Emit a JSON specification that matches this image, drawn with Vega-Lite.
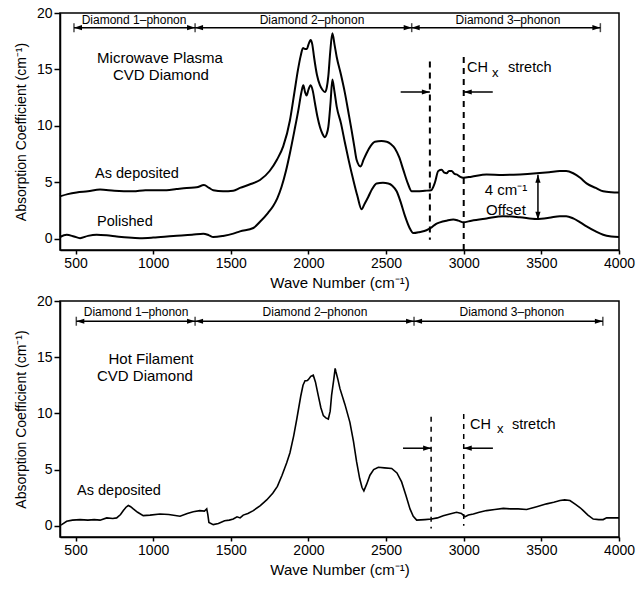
{
  "$schema": "https://vega.github.io/schema/vega-lite/v6.json",
  "background": "white",
  "padding": {"left": 13, "top": 5, "right": 5, "bottom": 5},
  "spacing": 2,
  "datasets": {
    "topCurves": [
      {"series": "As deposited", "x": 400, "y": 3.75}, {"series": "As deposited", "x": 450, "y": 3.95}, {"series": "As deposited", "x": 507, "y": 4.1}, {"series": "As deposited", "x": 580, "y": 4.2}, {"series": "As deposited", "x": 658, "y": 4.35}, {"series": "As deposited", "x": 750, "y": 4.25}, {"series": "As deposited", "x": 872, "y": 4.2}, {"series": "As deposited", "x": 950, "y": 4.3}, {"series": "As deposited", "x": 1087, "y": 4.3}, {"series": "As deposited", "x": 1150, "y": 4.4}, {"series": "As deposited", "x": 1216, "y": 4.5}, {"series": "As deposited", "x": 1280, "y": 4.55}, {"series": "As deposited", "x": 1327, "y": 4.75}, {"series": "As deposited", "x": 1360, "y": 4.5}, {"series": "As deposited", "x": 1387, "y": 4.3}, {"series": "As deposited", "x": 1450, "y": 4.2}, {"series": "As deposited", "x": 1516, "y": 4.25}, {"series": "As deposited", "x": 1559, "y": 4.5}, {"series": "As deposited", "x": 1620, "y": 4.8}, {"series": "As deposited", "x": 1688, "y": 5.2}, {"series": "As deposited", "x": 1750, "y": 6.0}, {"series": "As deposited", "x": 1797, "y": 7.0}, {"series": "As deposited", "x": 1838, "y": 8.2}, {"series": "As deposited", "x": 1881, "y": 10.5}, {"series": "As deposited", "x": 1910, "y": 13.0}, {"series": "As deposited", "x": 1933, "y": 15.0}, {"series": "As deposited", "x": 1950, "y": 16.2}, {"series": "As deposited", "x": 1965, "y": 16.9}, {"series": "As deposited", "x": 1978, "y": 16.8}, {"series": "As deposited", "x": 1990, "y": 16.8}, {"series": "As deposited", "x": 2000, "y": 17.2}, {"series": "As deposited", "x": 2014, "y": 17.6}, {"series": "As deposited", "x": 2025, "y": 17.2}, {"series": "As deposited", "x": 2036, "y": 16.1}, {"series": "As deposited", "x": 2055, "y": 14.5}, {"series": "As deposited", "x": 2074, "y": 13.6}, {"series": "As deposited", "x": 2090, "y": 13.2}, {"series": "As deposited", "x": 2106, "y": 13.0}, {"series": "As deposited", "x": 2118, "y": 13.4}, {"series": "As deposited", "x": 2128, "y": 14.4}, {"series": "As deposited", "x": 2140, "y": 16.5}, {"series": "As deposited", "x": 2154, "y": 18.2}, {"series": "As deposited", "x": 2168, "y": 17.2}, {"series": "As deposited", "x": 2182, "y": 16.1}, {"series": "As deposited", "x": 2210, "y": 14.5}, {"series": "As deposited", "x": 2235, "y": 12.9}, {"series": "As deposited", "x": 2260, "y": 11.0}, {"series": "As deposited", "x": 2278, "y": 9.6}, {"series": "As deposited", "x": 2295, "y": 8.2}, {"series": "As deposited", "x": 2310, "y": 7.0}, {"series": "As deposited", "x": 2336, "y": 6.4}, {"series": "As deposited", "x": 2355, "y": 7.0}, {"series": "As deposited", "x": 2375, "y": 7.6}, {"series": "As deposited", "x": 2400, "y": 8.2}, {"series": "As deposited", "x": 2428, "y": 8.6}, {"series": "As deposited", "x": 2470, "y": 8.65}, {"series": "As deposited", "x": 2504, "y": 8.6}, {"series": "As deposited", "x": 2530, "y": 8.4}, {"series": "As deposited", "x": 2557, "y": 8.0}, {"series": "As deposited", "x": 2585, "y": 7.2}, {"series": "As deposited", "x": 2611, "y": 6.1}, {"series": "As deposited", "x": 2640, "y": 4.9}, {"series": "As deposited", "x": 2665, "y": 4.2}, {"series": "As deposited", "x": 2700, "y": 4.2}, {"series": "As deposited", "x": 2750, "y": 4.25}, {"series": "As deposited", "x": 2790, "y": 4.3}, {"series": "As deposited", "x": 2815, "y": 5.0}, {"series": "As deposited", "x": 2836, "y": 6.0}, {"series": "As deposited", "x": 2858, "y": 6.1}, {"series": "As deposited", "x": 2875, "y": 5.85}, {"series": "As deposited", "x": 2890, "y": 5.8}, {"series": "As deposited", "x": 2905, "y": 6.0}, {"series": "As deposited", "x": 2922, "y": 6.0}, {"series": "As deposited", "x": 2940, "y": 5.75}, {"series": "As deposited", "x": 2954, "y": 5.7}, {"series": "As deposited", "x": 2975, "y": 5.5}, {"series": "As deposited", "x": 2997, "y": 5.4}, {"series": "As deposited", "x": 3050, "y": 5.5}, {"series": "As deposited", "x": 3147, "y": 5.7}, {"series": "As deposited", "x": 3250, "y": 5.65}, {"series": "As deposited", "x": 3362, "y": 5.7}, {"series": "As deposited", "x": 3469, "y": 5.8}, {"series": "As deposited", "x": 3550, "y": 5.9}, {"series": "As deposited", "x": 3620, "y": 6.0}, {"series": "As deposited", "x": 3660, "y": 6.0}, {"series": "As deposited", "x": 3705, "y": 5.8}, {"series": "As deposited", "x": 3750, "y": 5.4}, {"series": "As deposited", "x": 3791, "y": 4.9}, {"series": "As deposited", "x": 3850, "y": 4.5}, {"series": "As deposited", "x": 3898, "y": 4.2}, {"series": "As deposited", "x": 3950, "y": 4.12}, {"series": "As deposited", "x": 4000, "y": 4.1},
      {"series": "Polished", "x": 400, "y": 0.15}, {"series": "Polished", "x": 443, "y": 0.35}, {"series": "Polished", "x": 490, "y": 0.2}, {"series": "Polished", "x": 529, "y": 0.05}, {"series": "Polished", "x": 580, "y": 0.25}, {"series": "Polished", "x": 636, "y": 0.35}, {"series": "Polished", "x": 700, "y": 0.3}, {"series": "Polished", "x": 765, "y": 0.2}, {"series": "Polished", "x": 840, "y": 0.1}, {"series": "Polished", "x": 915, "y": 0.05}, {"series": "Polished", "x": 1000, "y": 0.1}, {"series": "Polished", "x": 1130, "y": 0.25}, {"series": "Polished", "x": 1250, "y": 0.35}, {"series": "Polished", "x": 1323, "y": 0.45}, {"series": "Polished", "x": 1360, "y": 0.3}, {"series": "Polished", "x": 1387, "y": 0.15}, {"series": "Polished", "x": 1450, "y": 0.25}, {"series": "Polished", "x": 1516, "y": 0.45}, {"series": "Polished", "x": 1559, "y": 0.65}, {"series": "Polished", "x": 1645, "y": 0.95}, {"series": "Polished", "x": 1688, "y": 1.5}, {"series": "Polished", "x": 1740, "y": 2.3}, {"series": "Polished", "x": 1773, "y": 2.9}, {"series": "Polished", "x": 1800, "y": 3.6}, {"series": "Polished", "x": 1827, "y": 4.6}, {"series": "Polished", "x": 1855, "y": 6.0}, {"series": "Polished", "x": 1881, "y": 7.6}, {"series": "Polished", "x": 1910, "y": 9.6}, {"series": "Polished", "x": 1935, "y": 11.4}, {"series": "Polished", "x": 1955, "y": 13.0}, {"series": "Polished", "x": 1967, "y": 13.6}, {"series": "Polished", "x": 1978, "y": 13.0}, {"series": "Polished", "x": 1988, "y": 12.7}, {"series": "Polished", "x": 2000, "y": 13.2}, {"series": "Polished", "x": 2014, "y": 13.6}, {"series": "Polished", "x": 2028, "y": 13.1}, {"series": "Polished", "x": 2042, "y": 12.0}, {"series": "Polished", "x": 2058, "y": 10.8}, {"series": "Polished", "x": 2074, "y": 9.9}, {"series": "Polished", "x": 2090, "y": 9.3}, {"series": "Polished", "x": 2106, "y": 9.0}, {"series": "Polished", "x": 2118, "y": 9.3}, {"series": "Polished", "x": 2128, "y": 9.9}, {"series": "Polished", "x": 2142, "y": 12.0}, {"series": "Polished", "x": 2154, "y": 14.1}, {"series": "Polished", "x": 2168, "y": 13.0}, {"series": "Polished", "x": 2182, "y": 11.7}, {"series": "Polished", "x": 2210, "y": 10.2}, {"series": "Polished", "x": 2235, "y": 8.5}, {"series": "Polished", "x": 2260, "y": 6.9}, {"series": "Polished", "x": 2289, "y": 5.2}, {"series": "Polished", "x": 2315, "y": 3.8}, {"series": "Polished", "x": 2342, "y": 2.6}, {"series": "Polished", "x": 2362, "y": 3.1}, {"series": "Polished", "x": 2385, "y": 3.7}, {"series": "Polished", "x": 2410, "y": 4.4}, {"series": "Polished", "x": 2439, "y": 4.9}, {"series": "Polished", "x": 2480, "y": 4.95}, {"series": "Polished", "x": 2514, "y": 4.9}, {"series": "Polished", "x": 2540, "y": 4.7}, {"series": "Polished", "x": 2568, "y": 4.2}, {"series": "Polished", "x": 2595, "y": 3.2}, {"series": "Polished", "x": 2622, "y": 2.0}, {"series": "Polished", "x": 2650, "y": 1.0}, {"series": "Polished", "x": 2675, "y": 0.5}, {"series": "Polished", "x": 2718, "y": 0.6}, {"series": "Polished", "x": 2760, "y": 0.75}, {"series": "Polished", "x": 2793, "y": 1.0}, {"series": "Polished", "x": 2820, "y": 1.3}, {"series": "Polished", "x": 2847, "y": 1.45}, {"series": "Polished", "x": 2890, "y": 1.6}, {"series": "Polished", "x": 2933, "y": 1.7}, {"series": "Polished", "x": 2965, "y": 1.6}, {"series": "Polished", "x": 2997, "y": 1.45}, {"series": "Polished", "x": 3050, "y": 1.6}, {"series": "Polished", "x": 3147, "y": 1.8}, {"series": "Polished", "x": 3255, "y": 2.0}, {"series": "Polished", "x": 3362, "y": 1.9}, {"series": "Polished", "x": 3469, "y": 1.75}, {"series": "Polished", "x": 3550, "y": 1.85}, {"series": "Polished", "x": 3620, "y": 2.0}, {"series": "Polished", "x": 3660, "y": 2.0}, {"series": "Polished", "x": 3705, "y": 1.8}, {"series": "Polished", "x": 3750, "y": 1.45}, {"series": "Polished", "x": 3791, "y": 1.1}, {"series": "Polished", "x": 3850, "y": 0.65}, {"series": "Polished", "x": 3898, "y": 0.35}, {"series": "Polished", "x": 3950, "y": 0.2}, {"series": "Polished", "x": 4000, "y": 0.15}
    ],
    "bottomCurve": [
      {"x": 400, "y": 0.05}, {"x": 411, "y": 0.1}, {"x": 443, "y": 0.4}, {"x": 480, "y": 0.5}, {"x": 529, "y": 0.55}, {"x": 580, "y": 0.5}, {"x": 620, "y": 0.55}, {"x": 658, "y": 0.5}, {"x": 701, "y": 0.7}, {"x": 740, "y": 0.65}, {"x": 765, "y": 0.7}, {"x": 790, "y": 1.0}, {"x": 808, "y": 1.35}, {"x": 825, "y": 1.65}, {"x": 840, "y": 1.8}, {"x": 855, "y": 1.7}, {"x": 872, "y": 1.5}, {"x": 900, "y": 1.2}, {"x": 936, "y": 0.9}, {"x": 980, "y": 0.95}, {"x": 1044, "y": 1.05}, {"x": 1100, "y": 1.0}, {"x": 1173, "y": 0.85}, {"x": 1220, "y": 1.1}, {"x": 1258, "y": 1.25}, {"x": 1300, "y": 1.35}, {"x": 1330, "y": 1.3}, {"x": 1345, "y": 1.5}, {"x": 1352, "y": 1.0}, {"x": 1359, "y": 0.3}, {"x": 1387, "y": 0.1}, {"x": 1420, "y": 0.2}, {"x": 1460, "y": 0.45}, {"x": 1490, "y": 0.5}, {"x": 1516, "y": 0.6}, {"x": 1540, "y": 0.8}, {"x": 1560, "y": 0.7}, {"x": 1580, "y": 0.95}, {"x": 1610, "y": 1.1}, {"x": 1645, "y": 1.35}, {"x": 1690, "y": 1.8}, {"x": 1731, "y": 2.3}, {"x": 1770, "y": 2.9}, {"x": 1800, "y": 3.5}, {"x": 1830, "y": 4.5}, {"x": 1860, "y": 5.6}, {"x": 1881, "y": 6.5}, {"x": 1905, "y": 8.0}, {"x": 1925, "y": 9.5}, {"x": 1950, "y": 11.5}, {"x": 1965, "y": 12.5}, {"x": 1978, "y": 12.9}, {"x": 1990, "y": 12.9}, {"x": 1999, "y": 13.0}, {"x": 2015, "y": 13.3}, {"x": 2031, "y": 13.4}, {"x": 2045, "y": 12.8}, {"x": 2063, "y": 11.6}, {"x": 2080, "y": 10.5}, {"x": 2096, "y": 9.8}, {"x": 2112, "y": 9.6}, {"x": 2128, "y": 9.5}, {"x": 2140, "y": 10.2}, {"x": 2149, "y": 11.6}, {"x": 2163, "y": 13.0}, {"x": 2172, "y": 14.0}, {"x": 2177, "y": 13.7}, {"x": 2190, "y": 13.0}, {"x": 2203, "y": 12.2}, {"x": 2235, "y": 10.8}, {"x": 2267, "y": 9.2}, {"x": 2290, "y": 7.5}, {"x": 2310, "y": 5.7}, {"x": 2330, "y": 4.2}, {"x": 2345, "y": 3.4}, {"x": 2357, "y": 3.1}, {"x": 2375, "y": 3.7}, {"x": 2396, "y": 4.5}, {"x": 2420, "y": 5.0}, {"x": 2450, "y": 5.2}, {"x": 2490, "y": 5.15}, {"x": 2536, "y": 5.1}, {"x": 2570, "y": 4.7}, {"x": 2600, "y": 3.9}, {"x": 2628, "y": 2.7}, {"x": 2654, "y": 1.5}, {"x": 2675, "y": 0.85}, {"x": 2697, "y": 0.5}, {"x": 2750, "y": 0.55}, {"x": 2793, "y": 0.6}, {"x": 2830, "y": 0.7}, {"x": 2868, "y": 0.9}, {"x": 2910, "y": 1.05}, {"x": 2954, "y": 1.2}, {"x": 2985, "y": 1.1}, {"x": 3008, "y": 0.8}, {"x": 3030, "y": 0.95}, {"x": 3062, "y": 1.05}, {"x": 3100, "y": 1.2}, {"x": 3147, "y": 1.35}, {"x": 3200, "y": 1.45}, {"x": 3255, "y": 1.55}, {"x": 3300, "y": 1.5}, {"x": 3350, "y": 1.5}, {"x": 3405, "y": 1.45}, {"x": 3470, "y": 1.7}, {"x": 3534, "y": 1.95}, {"x": 3580, "y": 2.1}, {"x": 3620, "y": 2.25}, {"x": 3650, "y": 2.3}, {"x": 3684, "y": 2.25}, {"x": 3720, "y": 1.9}, {"x": 3750, "y": 1.6}, {"x": 3770, "y": 1.35}, {"x": 3800, "y": 0.95}, {"x": 3834, "y": 0.6}, {"x": 3870, "y": 0.55}, {"x": 3898, "y": 0.55}, {"x": 3920, "y": 0.7}, {"x": 3941, "y": 0.7}, {"x": 3970, "y": 0.7}, {"x": 4000, "y": 0.7}
    ],
    "topHRules": [
      {"x": 490, "x2": 1270, "y": 18.7}, {"x": 1270, "x2": 2665, "y": 18.7}, {"x": 2665, "x2": 3880, "y": 18.7},
      {"x": 2594, "x2": 2782, "y": 13.0}, {"x": 3000, "x2": 3187, "y": 13.0}
    ],
    "bottomHRules": [
      {"x": 505, "x2": 1270, "y": 18.2}, {"x": 1270, "x2": 2680, "y": 18.2}, {"x": 2680, "x2": 3896, "y": 18.2},
      {"x": 2609, "x2": 2790, "y": 6.9}, {"x": 3000, "x2": 3188, "y": 6.9}
    ],
    "topDashed": [
      {"x": 2782, "y": 15.7, "y2": -0.1}, {"x": 3000, "y": 16.1, "y2": -1}
    ],
    "bottomDashed": [
      {"x": 2790, "y": 9.7, "y2": -0.25}, {"x": 3000, "y": 9.95, "y2": 0}
    ],
    "topVRules": [
      {"x": 3478, "y": 5.66, "y2": 1.68}
    ],
    "topBars": [
      {"x": 490, "y": 18.7}, {"x": 1270, "y": 18.7}, {"x": 2665, "y": 18.7}, {"x": 3880, "y": 18.7}
    ],
    "bottomBars": [
      {"x": 505, "y": 18.2}, {"x": 1270, "y": 18.2}, {"x": 2680, "y": 18.2}, {"x": 3896, "y": 18.2}
    ],
    "topHeads": [
      {"x": 490, "y": 18.7, "dir": "left"}, {"x": 1270, "y": 18.7, "dir": "right"}, {"x": 1270, "y": 18.7, "dir": "left"}, {"x": 2665, "y": 18.7, "dir": "right"}, {"x": 2665, "y": 18.7, "dir": "left"}, {"x": 3880, "y": 18.7, "dir": "right"},
      {"x": 2782, "y": 13.0, "dir": "right"}, {"x": 3000, "y": 13.0, "dir": "left"},
      {"x": 3478, "y": 5.66, "dir": "up"}, {"x": 3478, "y": 1.68, "dir": "down"}
    ],
    "bottomHeads": [
      {"x": 505, "y": 18.2, "dir": "left"}, {"x": 1270, "y": 18.2, "dir": "right"}, {"x": 1270, "y": 18.2, "dir": "left"}, {"x": 2680, "y": 18.2, "dir": "right"}, {"x": 2680, "y": 18.2, "dir": "left"}, {"x": 3896, "y": 18.2, "dir": "right"},
      {"x": 2790, "y": 6.9, "dir": "right"}, {"x": 3000, "y": 6.9, "dir": "left"}
    ],
    "topText": [
      {"kind": "main", "text": "Microwave Plasma", "x": 1044, "y": 16.0},
      {"kind": "main", "text": "CVD Diamond", "x": 1050, "y": 14.5},
      {"kind": "main", "text": "4 cm⁻¹", "x": 3272, "y": 4.3},
      {"kind": "main", "text": "Offset", "x": 3272, "y": 2.55},
      {"kind": "left", "text": "As deposited", "x": 626, "y": 5.75},
      {"kind": "left", "text": "Polished", "x": 639, "y": 1.5},
      {"kind": "left", "text": "CH", "x": 3021, "y": 15.1},
      {"kind": "left", "text": "stretch", "x": 3285, "y": 15.1},
      {"kind": "sub", "text": "x", "x": 3182, "y": 14.7},
      {"kind": "bracket", "text": "Diamond 1–phonon", "x": 877, "y": 19.4},
      {"kind": "bracket", "text": "Diamond 2–phonon", "x": 2023, "y": 19.4},
      {"kind": "bracket", "text": "Diamond 3–phonon", "x": 3285, "y": 19.4}
    ],
    "bottomText": [
      {"kind": "main", "text": "Hot Filament", "x": 986, "y": 14.8},
      {"kind": "main", "text": "CVD Diamond", "x": 947, "y": 13.3},
      {"kind": "left", "text": "As deposited", "x": 510, "y": 3.1},
      {"kind": "left", "text": "CH", "x": 3040, "y": 9.0},
      {"kind": "left", "text": "stretch", "x": 3311, "y": 9.0},
      {"kind": "sub", "text": "x", "x": 3214, "y": 8.6},
      {"kind": "bracket", "text": "Diamond 1–phonon", "x": 890, "y": 19.05},
      {"kind": "bracket", "text": "Diamond 2–phonon", "x": 2042, "y": 19.05},
      {"kind": "bracket", "text": "Diamond 3–phonon", "x": 3310, "y": 19.05}
    ]
  },
  "vconcat": [
    {
      "width": 559,
      "height": 237,
      "encoding": {
        "x": {"field": "x", "type": "quantitative", "scale": {"domain": [400, 4000], "nice": false, "zero": false}, "axis": {"values": [500, 1000, 1500, 2000, 2500, 3000, 3500, 4000], "format": "d", "title": "Wave Number (cm⁻¹)", "labelFlush": false}},
        "y": {"field": "y", "type": "quantitative", "scale": {"domain": [-1, 20], "nice": false, "zero": false}, "axis": {"values": [0, 5, 10, 15, 20], "format": "d", "title": "Absorption Coefficient (cm⁻¹)"}}
      },
      "layer": [
        {"data": {"name": "topCurves"}, "mark": {"type": "line", "color": "black", "strokeWidth": 2, "interpolate": "monotone"}, "encoding": {"detail": {"field": "series"}}},
        {"data": {"name": "topHRules"}, "mark": {"type": "rule", "color": "black", "strokeWidth": 1.5}, "encoding": {"x2": {"field": "x2"}}},
        {"data": {"name": "topDashed"}, "mark": {"type": "rule", "color": "black", "strokeWidth": 2, "strokeDash": [6, 5]}, "encoding": {"y2": {"field": "y2"}}},
        {"data": {"name": "topVRules"}, "mark": {"type": "rule", "color": "black", "strokeWidth": 1.5}, "encoding": {"y2": {"field": "y2"}}},
        {"data": {"name": "topBars"}, "mark": {"type": "tick", "orient": "vertical", "color": "black", "size": 9, "thickness": 1.5}},
        {"data": {"name": "topHeads"}, "mark": {"type": "point", "filled": true, "color": "black", "opacity": 1, "size": 64, "strokeWidth": 0}, "encoding": {"shape": {"field": "dir", "type": "nominal", "legend": null, "scale": {"domain": ["right", "left", "up", "down"], "range": ["M0,0L-2,-0.65L-2,0.65Z", "M0,0L2,-0.65L2,0.65Z", "M0,0L-0.65,2L0.65,2Z", "M0,0L-0.65,-2L0.65,-2Z"]}}}},
        {"data": {"name": "topText"}, "transform": [{"filter": "datum.kind === 'main'"}], "mark": {"type": "text", "fontSize": 15, "align": "center", "baseline": "middle", "color": "black", "font": "Liberation Sans"}, "encoding": {"text": {"field": "text"}}},
        {"data": {"name": "topText"}, "transform": [{"filter": "datum.kind === 'left'"}], "mark": {"type": "text", "fontSize": 14.5, "align": "left", "baseline": "middle", "color": "black", "font": "Liberation Sans"}, "encoding": {"text": {"field": "text"}}},
        {"data": {"name": "topText"}, "transform": [{"filter": "datum.kind === 'sub'"}], "mark": {"type": "text", "fontSize": 13, "align": "left", "baseline": "middle", "color": "black", "font": "Liberation Sans"}, "encoding": {"text": {"field": "text"}}},
        {"data": {"name": "topText"}, "transform": [{"filter": "datum.kind === 'bracket'"}], "mark": {"type": "text", "fontSize": 12, "align": "center", "baseline": "middle", "color": "black", "font": "Liberation Sans"}, "encoding": {"text": {"field": "text"}}}
      ]
    },
    {
      "width": 559,
      "height": 236,
      "encoding": {
        "x": {"field": "x", "type": "quantitative", "scale": {"domain": [400, 4000], "nice": false, "zero": false}, "axis": {"values": [500, 1000, 1500, 2000, 2500, 3000, 3500, 4000], "format": "d", "title": "Wave Number (cm⁻¹)", "labelFlush": false}},
        "y": {"field": "y", "type": "quantitative", "scale": {"domain": [-1, 20], "nice": false, "zero": false}, "axis": {"values": [0, 5, 10, 15, 20], "format": "d", "title": "Absorption Coefficient (cm⁻¹)"}}
      },
      "layer": [
        {"data": {"name": "bottomCurve"}, "mark": {"type": "line", "color": "black", "strokeWidth": 1.6}},
        {"data": {"name": "bottomHRules"}, "mark": {"type": "rule", "color": "black", "strokeWidth": 1.5}, "encoding": {"x2": {"field": "x2"}}},
        {"data": {"name": "bottomDashed"}, "mark": {"type": "rule", "color": "black", "strokeWidth": 1.5, "strokeDash": [5, 5]}, "encoding": {"y2": {"field": "y2"}}},
        {"data": {"name": "bottomBars"}, "mark": {"type": "tick", "orient": "vertical", "color": "black", "size": 9, "thickness": 1.5}},
        {"data": {"name": "bottomHeads"}, "mark": {"type": "point", "filled": true, "color": "black", "opacity": 1, "size": 64, "strokeWidth": 0}, "encoding": {"shape": {"field": "dir", "type": "nominal", "legend": null, "scale": {"domain": ["right", "left", "up", "down"], "range": ["M0,0L-2,-0.65L-2,0.65Z", "M0,0L2,-0.65L2,0.65Z", "M0,0L-0.65,2L0.65,2Z", "M0,0L-0.65,-2L0.65,-2Z"]}}}},
        {"data": {"name": "bottomText"}, "transform": [{"filter": "datum.kind === 'main'"}], "mark": {"type": "text", "fontSize": 15, "align": "center", "baseline": "middle", "color": "black", "font": "Liberation Sans"}, "encoding": {"text": {"field": "text"}}},
        {"data": {"name": "bottomText"}, "transform": [{"filter": "datum.kind === 'left'"}], "mark": {"type": "text", "fontSize": 14.5, "align": "left", "baseline": "middle", "color": "black", "font": "Liberation Sans"}, "encoding": {"text": {"field": "text"}}},
        {"data": {"name": "bottomText"}, "transform": [{"filter": "datum.kind === 'sub'"}], "mark": {"type": "text", "fontSize": 13, "align": "left", "baseline": "middle", "color": "black", "font": "Liberation Sans"}, "encoding": {"text": {"field": "text"}}},
        {"data": {"name": "bottomText"}, "transform": [{"filter": "datum.kind === 'bracket'"}], "mark": {"type": "text", "fontSize": 12, "align": "center", "baseline": "middle", "color": "black", "font": "Liberation Sans"}, "encoding": {"text": {"field": "text"}}}
      ]
    }
  ],
  "config": {
    "font": "Liberation Sans",
    "view": {"stroke": "black", "strokeWidth": 1.5},
    "axis": {"grid": false, "domainColor": "black", "domainWidth": 1.5, "tickColor": "black", "tickWidth": 1.5, "tickSize": 6, "labelColor": "black", "labelFontSize": 14, "labelFont": "Liberation Sans", "labelPadding": 2, "titleFont": "Liberation Sans", "titleFontWeight": "normal", "titleColor": "black", "titleFontSize": 15},
    "axisY": {"titlePadding": 8, "titleFontSize": 14},
    "axisX": {"titlePadding": 5, "tickSize": 4}
  }
}
